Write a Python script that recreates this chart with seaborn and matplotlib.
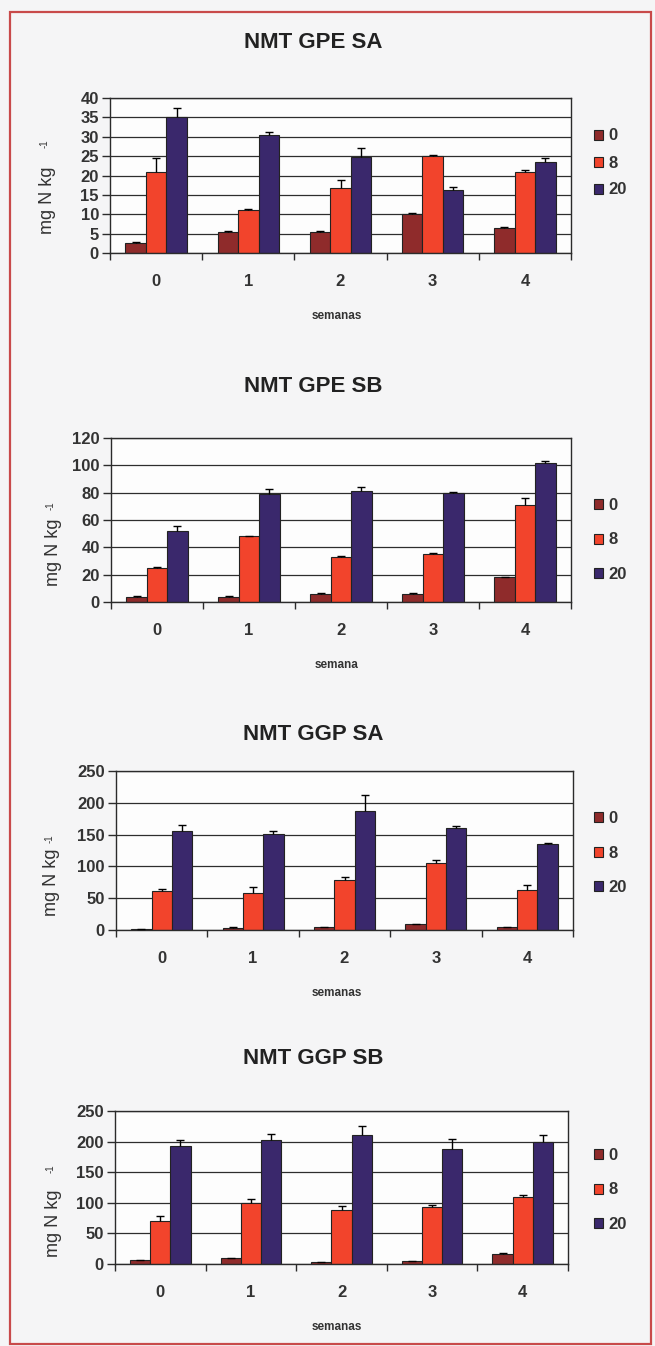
import numpy as np
import pandas as pd
import matplotlib
matplotlib.use("Agg")
import matplotlib.pyplot as plt
import seaborn as sns

# semanas / doses
weeks = ["0", "1", "2", "3", "4"]
doses = ["0", "8", "20"]
dose_colors = ["#8f2b2b", "#f2442c", "#3a286c"]

# NMT GPE SA
gpe_sa_mean = [[2.5, 5.5, 5.5, 10.0, 6.5],
               [21.0, 11.0, 16.8, 25.0, 20.8],
               [35.0, 30.5, 24.7, 16.3, 23.5]]
gpe_sa_err = [[0.3, 0.3, 0.3, 0.3, 0.3],
              [3.5, 0.3, 2.0, 0.3, 0.7],
              [2.5, 0.7, 2.3, 0.8, 1.0]]

# NMT GPE SB
gpe_sb_mean = [[4, 4, 6, 6, 18],
               [25, 48, 33, 35, 71],
               [52, 79, 81, 80, 102]]
gpe_sb_err = [[0.5, 0.5, 0.5, 0.5, 0.5],
              [0.5, 0.5, 0.5, 0.5, 5.0],
              [3.5, 3.5, 3.0, 0.5, 1.5]]

# NMT GGP SA
ggp_sa_mean = [[1, 3, 5, 9, 4],
               [61, 58, 79, 106, 63],
               [156, 151, 187, 160, 135]]
ggp_sa_err = [[0.3, 1.0, 0.5, 0.5, 0.5],
              [4, 10, 4, 4, 7],
              [9, 4, 25, 3, 2]]

# NMT GGP SB
ggp_sb_mean = [[6, 9, 3, 5, 17],
               [70, 100, 89, 93, 110],
               [193, 202, 211, 188, 199]]
ggp_sb_err = [[0.5, 0.5, 0.5, 0.5, 0.5],
              [9, 7, 5, 4, 2],
              [10, 11, 15, 16, 12]]

titles = ["NMT GPE SA", "NMT GPE SB", "NMT GGP SA", "NMT GGP SB"]
xlabels = ["semanas", "semana", "semanas", "semanas"]
ymax = [40, 120, 250, 250]
ystep = [5, 20, 50, 50]
means = [gpe_sa_mean, gpe_sb_mean, ggp_sa_mean, ggp_sb_mean]
errs = [gpe_sa_err, gpe_sb_err, ggp_sa_err, ggp_sb_err]

W, H = 655, 1346
# pixel layout: left, top, right, bottom, title y, ylabel x, ylabel y,
# superscript y, legend y, legend spacing
layout = [
    (110, 98, 571, 253, 43, 47, 200, 144, 163, 0.72),
    (111, 438, 571, 602, 387, 53, 552, 506, 540, 1.15),
    (116, 771, 573, 930, 735, 52, 882, 839, 853, 1.15),
    (115, 1111, 568, 1264, 1058, 53, 1223, 1169, 1190, 1.15),
]

sns.set_theme(style="white")
plt.rcParams["font.family"] = ["Liberation Sans", "DejaVu Sans"]

fig = plt.figure(figsize=(W / 100, H / 100), dpi=100)
fig.patch.set_facecolor("#f5f5f6")

# red frame around the page
fig.add_artist(plt.Rectangle((10 / W, 1 - 1344 / H), 641 / W, 1332 / H,
                             transform=fig.transFigure, fill=False,
                             edgecolor="#c84a4a", linewidth=1.6))

ink = "#2b2b2b"

for i in range(4):
    L, T, R, B, ty, ylx, yly, supy, legy, lsp = layout[i]
    ax = fig.add_axes([L / W, 1 - B / H, (R - L) / W, (B - T) / H])
    ax.set_facecolor("#fdfdfd")

    rows = []
    for d, dose in enumerate(doses):
        for w, wk in enumerate(weeks):
            rows.append({"semana": wk, "dose": dose, "valor": means[i][d][w]})
    df = pd.DataFrame(rows)

    sns.barplot(data=df, x="semana", y="valor", hue="dose", order=weeks,
                hue_order=doses, palette=dose_colors, saturation=1,
                errorbar=None, width=0.667, edgecolor="#222222",
                linewidth=0.8, ax=ax)

    bar_conts = list(ax.containers)
    for d, cont in enumerate(bar_conts):
        xs = [p.get_x() + p.get_width() / 2 for p in cont.patches]
        hs = [p.get_height() for p in cont.patches]
        up = errs[i][d]
        eb = ax.errorbar(xs, hs, yerr=[np.zeros(len(up)), up], fmt="none",
                         ecolor="black", elinewidth=1.0, capsize=3,
                         capthick=1.0, zorder=5)
        eb[1][0].set_visible(False)

    ax.set_ylim(0, ymax[i])
    ax.set_yticks(np.arange(0, ymax[i] + 1, ystep[i]))
    ax.set_xlim(-0.5, 4.5)
    ax.set_xticks(np.arange(-0.5, 5, 1), minor=True)
    ax.yaxis.grid(True, color="#2e2e2e", linewidth=0.9)
    ax.set_axisbelow(True)
    for s in ax.spines.values():
        s.set_visible(True)
        s.set_color(ink)
        s.set_linewidth(1.0)

    ax.tick_params(axis="x", which="major", length=0, pad=15,
                   labelsize=12, labelcolor="#333333")
    ax.tick_params(axis="x", which="minor", length=5, width=1,
                   direction="out", color=ink, bottom=True)
    ax.tick_params(axis="y", length=6, width=1, direction="out",
                   color=ink, left=True, labelsize=12, pad=2,
                   labelcolor="#333333")
    for lab in ax.get_xticklabels() + ax.get_yticklabels():
        lab.set_fontweight("bold")

    ax.set_xlabel("")
    ax.set_ylabel("")

    handles, labels = ax.get_legend_handles_labels()
    leg = ax.legend(handles[:3], labels[:3], loc="center left",
                    bbox_to_anchor=((594 - L) / (R - L), (B - legy) / (B - T)),
                    frameon=False, fontsize=12, handlelength=0.55,
                    handleheight=0.55, handletextpad=0.3, labelspacing=lsp,
                    borderpad=0, borderaxespad=0)
    for t in leg.get_texts():
        t.set_color("#333333")
        t.set_fontweight("bold")

    fig.text(313 / W, 1 - ty / H, titles[i], ha="center", va="center",
             fontsize=16, fontweight="bold", color="#222222")
    fig.text(337 / W, 1 - (B + 63) / H, xlabels[i], ha="center",
             va="center", fontsize=8.5, fontweight="bold", color="#333333")
    fig.text(ylx / W, 1 - yly / H, "mg N kg", rotation=90,
             ha="center", va="center", fontsize=13, color="#333333")
    fig.text((ylx - 2) / W, 1 - supy / H, "-1", rotation=90,
             ha="center", va="center", fontsize=7, color="#333333")

fig.savefig("out.png", dpi=100, facecolor=fig.get_facecolor())
